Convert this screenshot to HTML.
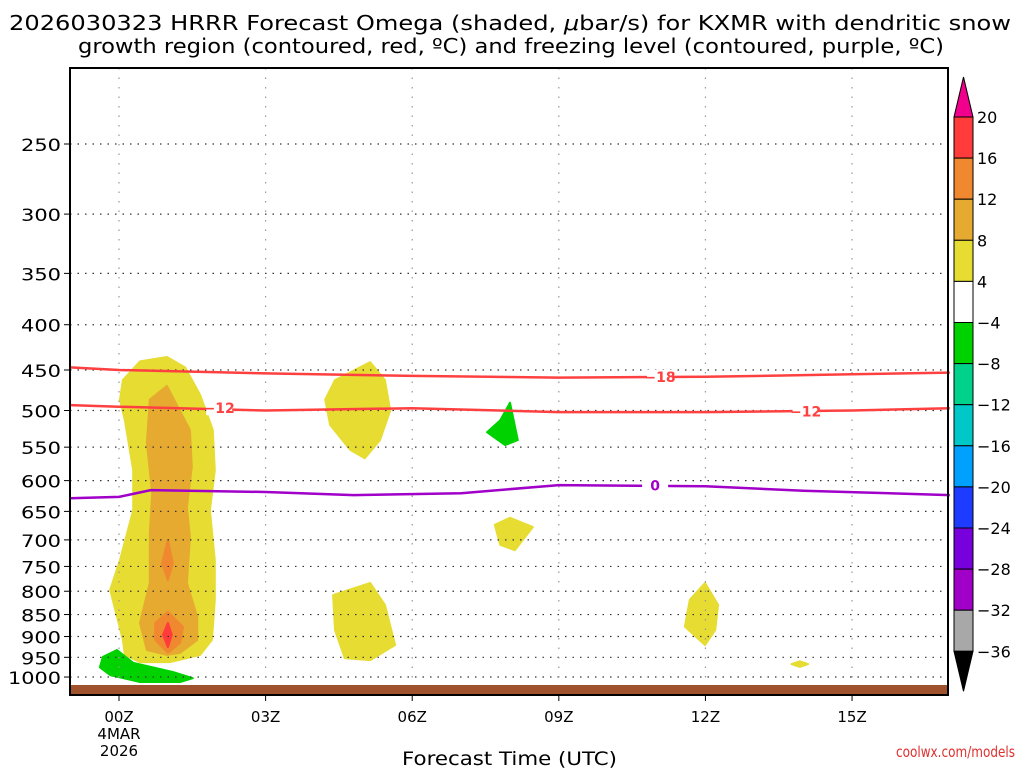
<!DOCTYPE html>
<html><head><meta charset="utf-8"><style>
html,body{margin:0;padding:0;background:#fff;width:1024px;height:768px;overflow:hidden}
svg{display:block;font-family:"DejaVu Sans","Liberation Sans",sans-serif}
</style></head><body>
<svg id="chart" width="1024" height="768" viewBox="0 0 1024 768" xmlns="http://www.w3.org/2000/svg">
<text x="9" y="30" font-size="20" textLength="1002" lengthAdjust="spacingAndGlyphs" fill="#000">2026030323 HRRR Forecast Omega (shaded, <tspan font-style="italic">μ</tspan>bar/s) for KXMR with dendritic snow</text>
<text x="78" y="53" font-size="20" textLength="866" lengthAdjust="spacingAndGlyphs" fill="#000">growth region (contoured, red, ºC) and freezing level (contoured, purple, ºC)</text>
<g id="shades"></g>
<g id="grid"></g>
<g id="lines"></g>
<rect x="70" y="685" width="878" height="10" fill="#a0522d"/>
<rect x="70" y="68" width="878" height="627" fill="none" stroke="#000" stroke-width="2"/>
<g id="axes"></g>
<g id="cbar"></g>
<text x="402" y="765" font-size="19" textLength="215" lengthAdjust="spacingAndGlyphs" fill="#000">Forecast Time (UTC)</text>
<text x="896" y="757" font-size="15" textLength="119" lengthAdjust="spacingAndGlyphs" fill="#e03030">coolwx.com/models</text>
</svg>
<script>
const pTicks=[250,300,350,400,450,500,550,600,650,700,750,800,850,900,950,1000];
const hTicks=[0,3,6,9,12,15];
const hLabels=["00Z","03Z","06Z","09Z","12Z","15Z"];
const cbLevels=["20","16","12","8","4","\u22124","\u22128","\u221212","\u221216","\u221220","\u221224","\u221228","\u221232","\u221236"];
const cbColors=["#ff3b3b","#f08830","#e6aa30","#e6dc32","#ffffff","#00d200","#00d28c","#00c8c8","#00a0ff","#1e3cff","#7800dc","#a000c8","#a8a8a8"];
// contour lines: [hour, hPa]
const line18=[[-1,447],[0,450],[3,454],[6,457],[9,459],[12,458],[15,455],[17,453]];
const line12=[[-1,493],[0,495],[3,500],[6,497],[9,502],[12,502],[15,500],[17,497]];
const line0=[[-1,628],[0,626],[0.65,615],[3,618],[4.8,623],[7,620],[9,607],[12,609],[14,616],[17,623]];
// shaded omega polygons: [hour, hPa]
const yellowMain=[[0.98,435],[1.35,447],[1.66,480],[1.92,526],[1.96,584],[1.86,648],[1.96,738],[1.96,818],[1.9,908],[1.66,944],[1.04,962],[0.43,962],[0.12,944],[0.08,908],[-0.18,797],[0.02,738],[0.29,648],[0.29,584],[0.12,513],[0.02,486],[0.08,462],[0.43,440]];
const orangeMain=[[0.98,469],[1.45,526],[1.49,579],[1.39,643],[1.45,695],[1.39,783],[1.6,855],[1.6,908],[1.25,939],[0.98,944],[0.57,932],[0.43,869],[0.63,783],[0.63,688],[0.68,620],[0.57,544],[0.63,486]];
const orange2A=[[1.0,700],[1.1,744],[1.0,777],[0.88,744]];
const orange2B=[[1.0,844],[1.31,878],[1.25,915],[1.0,939],[0.74,908],[0.74,869]];
const redCore=[[1.0,869],[1.08,896],[1.0,925],[0.9,896]];
const greenLow=[[-0.04,932],[0.29,964],[1.1,987],[1.51,1003],[1.25,1013],[0.43,1013],[-0.18,995],[-0.39,975],[-0.33,949]];
const yellow05a=[[5.14,441],[5.44,462],[5.55,500],[5.34,540],[5.03,566],[4.73,554],[4.32,519],[4.22,486],[4.42,462]];
const green08=[[8.0,490],[8.16,540],[7.9,547],[7.53,529],[7.8,513]];
const yellow08=[[8.0,661],[8.47,677],[8.1,719],[7.8,709],[7.69,673]];
const yellow05b=[[5.14,783],[5.44,829],[5.65,920],[5.14,957],[4.62,952],[4.42,885],[4.38,808]];
const yellow12=[[11.99,783],[12.26,829],[12.2,885],[11.99,920],[11.58,877],[11.68,818]];
const yellow14=[[13.93,960],[14.1,967],[13.93,974],[13.76,967]];

const X=h=>119+48.87*h;
const Y=p=>144+384.5*Math.log(p/250);
const NS="http://www.w3.org/2000/svg";
function mk(tag,parent,attrs){const e=document.createElementNS(NS,tag);for(const k in attrs)e.setAttribute(k,attrs[k]);parent.appendChild(e);return e;}
function pts(a){return a.map(d=>X(d[0]).toFixed(1)+","+Y(d[1]).toFixed(1)).join(" ");}
const shades=document.getElementById("shades");
const polys=[[yellowMain,"#e6dc32","omega-4-8-main"],[orangeMain,"#e6aa30","omega-8-12-main"],[orange2A,"#f08830","omega-12-16-upper"],[orange2B,"#f08830","omega-12-16-lower"],[redCore,"#ff3b3b","omega-16-20-core"],[greenLow,"#00d200","omega-neg-low"],[yellow05a,"#e6dc32","omega-05z-upper"],[green08,"#00d200","omega-neg-08z"],[yellow08,"#e6dc32","omega-08z-700"],[yellow05b,"#e6dc32","omega-05z-lower"],[yellow12,"#e6dc32","omega-12z"],[yellow14,"#e6dc32","omega-14z"]];
polys.forEach(q=>{const e=mk("polygon",shades,{points:pts(q[0]),fill:q[1],stroke:q[1],"stroke-width":2,"stroke-linejoin":"round"});

});
const grid=document.getElementById("grid");
const axes=document.getElementById("axes");
pTicks.forEach(p=>{const y=Y(p);
const g=mk("line",grid,{x1:70,x2:948,y1:y,y2:y,stroke:"#333","stroke-width":1.2,"stroke-dasharray":"1.5 6"});


mk("line",axes,{x1:64,x2:70,y1:y,y2:y,stroke:"#000"});
const s=String(p);
const t=mk("text",axes,{x:61-(s.length===4?53:40),y:y+7,"font-size":17,textLength:(s.length===4?53:40),lengthAdjust:"spacingAndGlyphs",fill:"#000"});t.textContent=s;

});
hTicks.forEach((h,i)=>{const x=X(h);
const g=mk("line",grid,{x1:x,x2:x,y1:68,y2:685,stroke:"#999","stroke-width":1.2,"stroke-dasharray":"1.5 8"});


mk("line",axes,{x1:x,x2:x,y1:695,y2:701,stroke:"#000"});
const t=mk("text",axes,{x:x,y:722,"font-size":15,"text-anchor":"middle",fill:"#000"});t.textContent=hLabels[i];

});
const d1=mk("text",axes,{x:X(0),y:739,"font-size":15,"text-anchor":"middle",fill:"#000"});d1.textContent="4MAR";


const d2=mk("text",axes,{x:X(0),y:756,"font-size":15,"text-anchor":"middle",fill:"#000"});d2.textContent="2026";


const lines=document.getElementById("lines");
function drawLine(arr,color,name){const e=mk("polyline",lines,{points:pts(arr),fill:"none",stroke:color,"stroke-width":2.5});

}
drawLine(line18,"#ff4040","contour-minus18");
drawLine(line12,"#ff4040","contour-minus12");
drawLine(line0,"#a000c8","freezing-level-0");
function lab(h,p,txt,color,name){const x=X(h),y=Y(p);
mk("rect",lines,{x:x-13,y:y-7,width:26,height:14,fill:"#fff"});
const t=mk("text",lines,{x:x,y:y+5,"font-size":14,"font-weight":"bold","text-anchor":"middle",fill:color});t.textContent=txt;

}
lab(11.07,458,"\u221218","#ff4040","label-minus18");
lab(2.05,497,"\u221212","#ff4040","label-minus12-left");
lab(14.05,501,"\u221212","#ff4040","label-minus12-right");
lab(10.97,608,"0","#a000c8","label-freezing-0");
// colorbar
const cb=document.getElementById("cbar");
const cx=954,cw=19,top0=117,step=41.1;
cbColors.forEach((c,i)=>{const r=mk("rect",cb,{x:cx,y:top0+i*step,width:cw,height:step,fill:c,stroke:"#000","stroke-width":1});

});
const bot=top0+cbColors.length*step;
const ta=mk("polygon",cb,{points:`${cx},${top0} ${cx+cw},${top0} ${cx+cw/2},${top0-40}`,fill:"#f0008c",stroke:"#000"});


const tb=mk("polygon",cb,{points:`${cx},${bot} ${cx+cw},${bot} ${cx+cw/2},${bot+40}`,fill:"#000",stroke:"#000"});


cbLevels.forEach((l,i)=>{const t=mk("text",cb,{x:977,y:top0+i*step+6,"font-size":16,fill:"#000"});t.textContent=l;

});
</script>
</body></html>
